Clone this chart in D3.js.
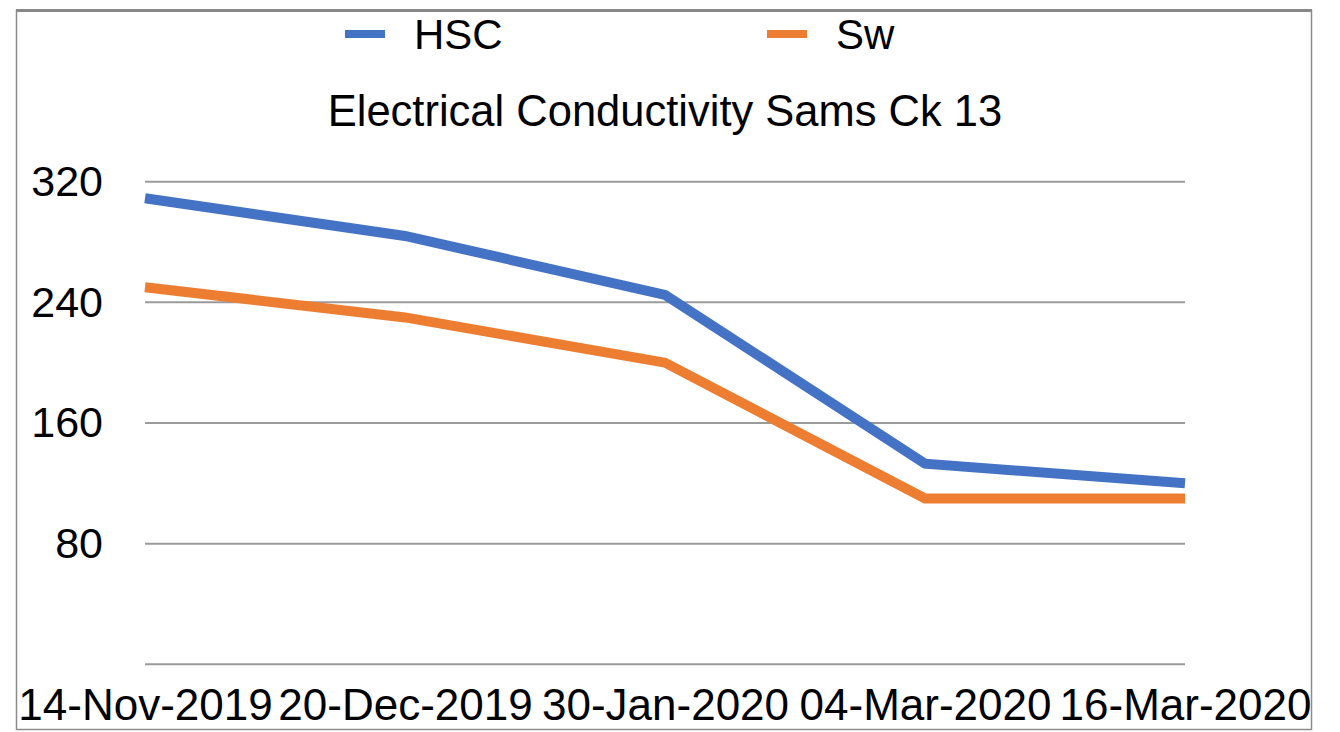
<!DOCTYPE html>
<html>
<head>
<meta charset="utf-8">
<script src="https://cdn.jsdelivr.net/npm/d3@7"></script>
<style>
  body { margin: 0; background: #fff; }
  text { font-family: "Liberation Sans", Arial, Helvetica, sans-serif; fill: #000; }
</style>
</head>
<body>
<div id="chart"></div>
<script>
// Chart data
const dates = ["14-Nov-2019", "20-Dec-2019", "30-Jan-2020", "04-Mar-2020", "16-Mar-2020"];
const hscValues = [309, 284, 245, 133, 120];
const swValues = [250, 230, 200, 110, 110];
const yTicks = [0, 80, 160, 240, 320];
const seriesNames = ["HSC", "Sw"];
const seriesColors = ["#4472C4", "#ED7D31"];

const width = 1340, height = 732;
const margin = { top: 181.7, right: 155, bottom: 67.7, left: 145 };

const svg = d3.select("#chart")
    .append("svg")
    .attr("width", width)
    .attr("height", height);

// Outer frame
svg.append("rect")
    .attr("x", 16.5).attr("y", 10.5)
    .attr("width", 1295).attr("height", 719)
    .attr("fill", "none")
    .attr("stroke", "#8c8c8c")
    .attr("stroke-width", 1.5);
svg.append("line")
    .attr("x1", 16).attr("x2", 1312)
    .attr("y1", 10.5).attr("y2", 10.5)
    .attr("stroke", "#888")
    .attr("stroke-width", 3);

const x = d3.scalePoint()
    .domain(dates)
    .range([margin.left, width - margin.right]);

const y = d3.scaleLinear()
    .domain([0, 320])
    .range([height - margin.bottom, margin.top]);

// Gridlines
svg.append("g")
    .selectAll("line")
    .data(yTicks)
    .join("line")
    .attr("x1", margin.left)
    .attr("x2", width - margin.right)
    .attr("y1", d => y(d))
    .attr("y2", d => y(d))
    .attr("stroke", "#9a9a9a")
    .attr("stroke-width", 2);

// Y axis labels
const yAxis = svg.append("g")
    .attr("transform", `translate(${margin.left},0)`)
    .call(d3.axisLeft(y).tickValues(yTicks.filter(d => d > 0)).tickSize(0).tickPadding(42));
yAxis.select(".domain").remove();
yAxis.selectAll("text")
    .style("font-size", "43px")
    .style("font-family", "'Liberation Sans', Arial, sans-serif");

// X axis labels
const xAxis = svg.append("g")
    .attr("transform", `translate(0,${y(0)})`)
    .call(d3.axisBottom(x).tickSize(0).tickPadding(24));
xAxis.select(".domain").remove();
xAxis.selectAll("text")
    .style("font-size", "44px")
    .style("font-family", "'Liberation Sans', Arial, sans-serif");

// Lines
const line = d3.line()
    .x((d, i) => x(dates[i]))
    .y(d => y(d));

[hscValues, swValues].forEach((vals, i) => {
    svg.append("path")
        .datum(vals)
        .attr("fill", "none")
        .attr("stroke", seriesColors[i])
        .attr("stroke-width", 10)
        .attr("stroke-linejoin", "miter")
        .attr("d", line);
});

// Legend
const legendX = [345, 767];
seriesNames.forEach((name, i) => {
    svg.append("rect")
        .attr("x", legendX[i])
        .attr("y", 30)
        .attr("width", 40)
        .attr("height", 8)
        .attr("fill", seriesColors[i]);
    svg.append("text")
        .attr("x", legendX[i] + 69)
        .attr("y", 49)
        .style("font-size", "42px")
        .text(name);
});

// Title
svg.append("text")
    .attr("x", 665)
    .attr("y", 126)
    .attr("text-anchor", "middle")
    .style("font-size", "43.5px")
    .text("Electrical Conductivity Sams Ck 13");
</script>
</body>
</html>
